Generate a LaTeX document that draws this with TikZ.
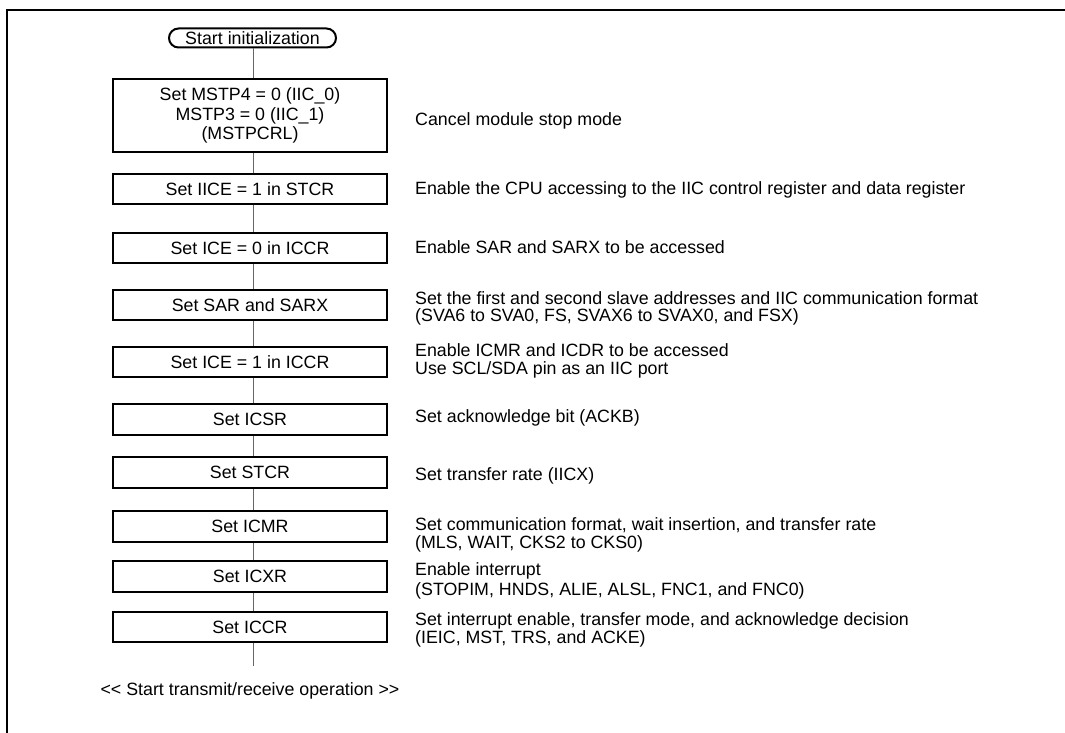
\documentclass[tikz,border=0pt]{standalone}
\usepackage{fontspec}
\setmainfont{Liberation Sans}
\begin{document}
\begin{tikzpicture}[x=1pt,y=-1pt,
  font=\fontsize{17.8}{19.3}\selectfont,
  stepbox/.style={draw, line width=2pt, minimum width=274pt, minimum height=30.5pt, inner sep=0pt, align=center},
  termbox/.style={draw, line width=2pt, rounded corners=9.5pt, minimum width=167pt, minimum height=19pt, inner sep=0pt},
  flow/.style={draw=black!60, line width=0.9pt},
  note/.style={anchor=base west, align=left, inner sep=0pt, font=\fontsize{17.8}{17.5}\selectfont},
  framed/.style={line width=2pt}]
\useasboundingbox (0,0) rectangle (1065,733);
\draw[framed] (7,733) -- (7,10) -- (1065,10);

\node[termbox] (start) at (252.5,38) {Start initialization};
\node[stepbox, minimum height=73pt] (b1) at (250,115.5) {Set MSTP4 = 0 (IIC\_0)\\MSTP3 = 0 (IIC\_1)\\(MSTPCRL)};
\node[stepbox] (b2) at (250,189) {Set IICE = 1 in STCR};
\node[stepbox] (b3) at (250,248) {Set ICE = 0 in ICCR};
\node[stepbox] (b4) at (250,305) {Set SAR and SARX};
\node[stepbox] (b5) at (250,362) {Set ICE = 1 in ICCR};
\node[stepbox] (b6) at (250,419.5) {Set ICSR};
\node[stepbox] (b7) at (250,472.5) {Set STCR};
\node[stepbox] (b8) at (250,526.5) {Set ICMR};
\node[stepbox] (b9) at (250,576.5) {Set ICXR};
\node[stepbox] (b10) at (250,627) {Set ICCR};
\coordinate (fin) at (253,666);
\node[anchor=base, inner sep=0pt] (op) at (250,695) {<\kern0pt< Start transmit/receive operation >\kern0pt>};

\draw[flow] ([xshift=0.5pt]start.south) -- ([xshift=3pt]b1.north);
\foreach \a/\b in {b1/b2,b2/b3,b3/b4,b4/b5,b5/b6,b6/b7,b7/b8,b8/b9,b9/b10}
  \draw[flow] ([xshift=3pt]\a.south) -- ([xshift=3pt]\b.north);
\draw[flow] ([xshift=3pt]b10.south) -- (fin);

\node[note] (n1) at (415,126) {Cancel module stop mode};
\node[note] (n2) at (415,194) {Enable the CPU accessing to the IIC control register and data register};
\node[note] (n3) at (415,253) {Enable SAR and SARX to be accessed};
\node[note] (n4) at (415,321.5) {Set the first and second slave addresses and IIC communication format\\(SVA6 to SVA0, FS, SVAX6 to SVAX0, and FSX)};
\node[note] (n5) at (415,374) {Enable ICMR and ICDR to be accessed\\Use SCL/SDA pin as an IIC port};
\node[note] (n6) at (415,422) {Set acknowledge bit (ACKB)};
\node[note] (n7) at (415,480.5) {Set transfer rate (IICX)};
\node[note] (n8) at (415,548) {Set communication format, wait insertion, and transfer rate\\(MLS, WAIT, CKS2 to CKS0)};
\node[note] (n9) at (415,595) {Enable interrupt\\[2.5pt](STOPIM, HNDS, ALIE, ALSL, FNC1, and FNC0)};
\node[note] (n10) at (415,643) {Set interrupt enable, transfer mode, and acknowledge decision\\(IEIC, MST, TRS, and ACKE)};
\end{tikzpicture}
\end{document}
